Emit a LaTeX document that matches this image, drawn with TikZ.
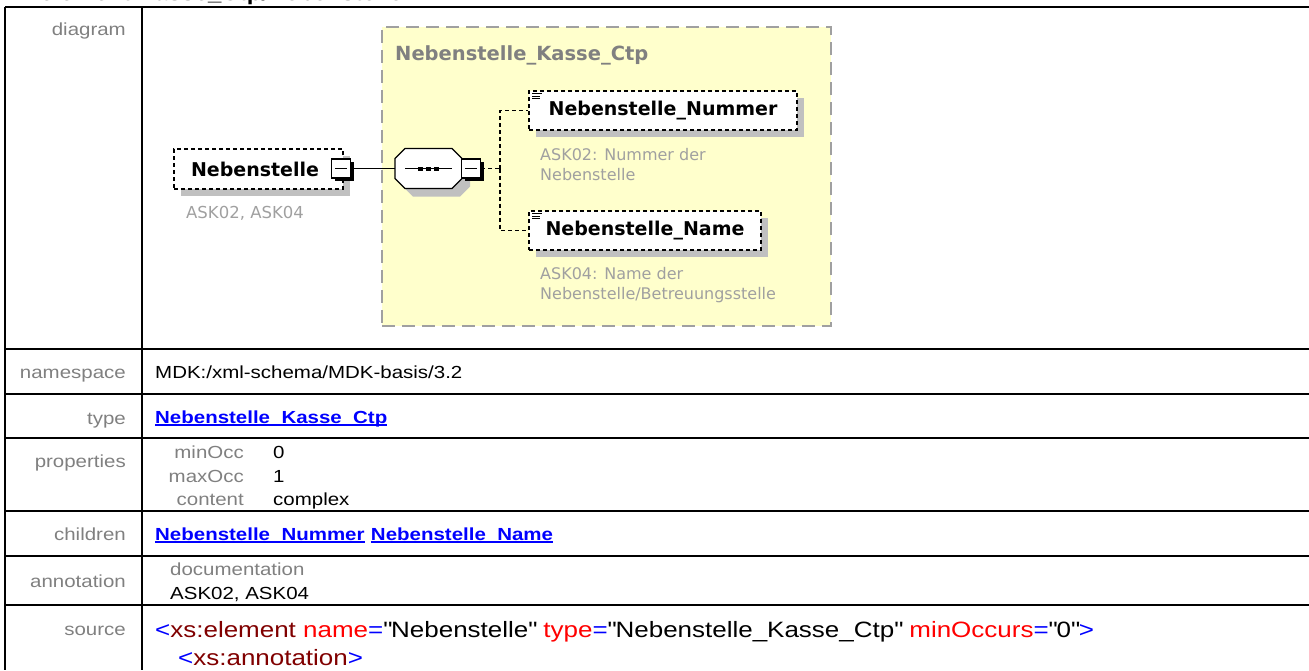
\documentclass[tikz,border=0pt]{standalone}
\usepackage{fontspec}
\setmainfont{Liberation Sans}[FakeStretch=1.17]
\newfontfamily\diafont{DejaVu Sans}
\usetikzlibrary{positioning,shadows,calc}

\definecolor{ctpyellow}{HTML}{FFFFCC}
\definecolor{ctpborder}{HTML}{A0A0A0}
\definecolor{shadowgray}{HTML}{C0C0C0}
\definecolor{docgray}{HTML}{A0A0A0}
\definecolor{tabgray}{HTML}{808080}
\definecolor{linkblue}{HTML}{0000FF}
\definecolor{srcmaroon}{HTML}{800000}
\definecolor{srcred}{HTML}{FF0000}

\newcommand{\ulink}[1]{\setbox0\hbox{#1}\rlap{\rule[-3pt]{\wd0}{1.6pt}}\box0}
\newcommand{\q}{\textquotedbl}

\begin{document}
\begin{tikzpicture}[x=1pt,y=-1pt,
  rule/.style={line width=2.5pt},
  rowlabel/.style={anchor=base east,inner sep=0pt,text=tabgray,font=\fontsize{17.5}{21}\selectfont},
  rowvalue/.style={anchor=base west,inner sep=0pt,font=\fontsize{17.5}{21}\selectfont},
  link/.style={anchor=base west,inner sep=0pt,text=linkblue,font=\fontsize{17.5}{21}\selectfont\bfseries},
  srcline/.style={anchor=base west,inner sep=0pt,font=\fontsize{22.2}{26}\selectfont},
  typebox/.style={rectangle,draw=ctpborder,fill=ctpyellow,line width=1.5pt,dash pattern=on 13pt off 7pt},
  elem/.style={rectangle,draw,fill=white,line width=1.3pt,dash pattern=on 4pt off 3pt,inner sep=0pt,
    font=\diafont\bfseries\fontsize{19}{22}\selectfont,
    drop shadow={shadow xshift=7pt,shadow yshift=-7pt,fill=shadowgray,opacity=1}},
  minusbox/.style={rectangle,draw,fill=white,line width=1.5pt,minimum size=19pt,inner sep=0pt,
    drop shadow={shadow xshift=3pt,shadow yshift=-3pt,fill=black,opacity=1},
    path picture={\draw[line width=1.3pt] ([xshift=3.5pt]path picture bounding box.west) -- ([xshift=-3.5pt]path picture bounding box.east);}},
  seqbox/.style={rectangle,minimum width=67pt,minimum height=40pt,inner sep=0pt},
  doc/.style={anchor=base west,inner sep=0pt,align=left,text=docgray,font=\diafont\fontsize{16}{20}\selectfont},
  conn/.style={line width=1.3pt},
  dconn/.style={line width=1.3pt,dash pattern=on 4pt off 3pt},
]
\useasboundingbox (0,0) rectangle (1309,670);

% === TABLE GRID ===
\draw[rule] (5,7) -- (1309,7);
\draw[rule] (5,349) -- (1309,349);
\draw[rule] (5,394) -- (1309,394);
\draw[rule] (5,438) -- (1309,438);
\draw[rule] (5,511) -- (1309,511);
\draw[rule] (5,556) -- (1309,556);
\draw[rule] (5,605) -- (1309,605);
\draw[rule] (5,7) -- (5,670);
\draw[rule] (142,7) -- (142,670);

% Heading, cut off by the page edge
\node[anchor=base west,inner sep=0pt,font=\fontsize{20.5}{24}\selectfont\bfseries] (heading) at (40,0.5) {element Kasse\_Ctp/Nebenstelle};

% === ROW LABELS ===
\node[rowlabel] (lbldiagram) at (126,35) {diagram};
\node[rowlabel] (lblnamespace) at (126,378) {namespace};
\node[rowlabel] (lbltype) at (126,424) {type};
\node[rowlabel] (lblproperties) at (126,467) {properties};
\node[rowlabel] (lblchildren) at (126,540) {children};
\node[rowlabel] (lblannotation) at (126,587) {annotation};
\node[rowlabel] (lblsource) at (126,635) {source};

% === ROW VALUES ===
\node[rowvalue] (namespace) at (155,378) {MDK:/xml-schema/MDK-basis/3.2};
\node[link] (typelink) at (155,423) {\ulink{Nebenstelle\_Kasse\_Ctp}};

\node[rowlabel] (minocc) at (244,458) {minOcc};
\node[rowlabel] (maxocc) at (244,482) {maxOcc};
\node[rowlabel] (content) at (244,505) {content};
\node[rowvalue] (minoccval) at (273,458) {0};
\node[rowvalue] (maxoccval) at (273,482) {1};
\node[rowvalue] (contentval) at (273,505) {complex};

\node[link] (kidnummer) at (155,540) {\ulink{Nebenstelle\_Nummer}};
\node[link,anchor=base west] (kidname) at ([xshift=6pt]kidnummer.base east) {\ulink{Nebenstelle\_Name}};

\node[rowvalue,text=tabgray] (documentation) at (170,575) {documentation};
\node[rowvalue] (annotext) at (170,599) {ASK02, ASK04};

\node[srcline] (srcfirst) at (155,637) {\textcolor{linkblue}{<}\textcolor{srcmaroon}{xs:element} \textcolor{srcred}{name}\textcolor{linkblue}{=}\q Nebenstelle\q{} \textcolor{srcred}{type}\textcolor{linkblue}{=}\q Nebenstelle\_Kasse\_Ctp\q{} \textcolor{srcred}{minOccurs}\textcolor{linkblue}{=}\q 0\q\textcolor{linkblue}{>}};
\node[srcline] (srcsecond) at (178,665) {\textcolor{linkblue}{<}\textcolor{srcmaroon}{xs:annotation}\textcolor{linkblue}{>}};

% === DIAGRAM ===
\node[typebox,minimum width=449pt,minimum height=299pt] (ctp) at (606.5,176.5) {};
\node[anchor=base west,inner sep=0pt,text=gray,font=\diafont\bfseries\fontsize{19.5}{23}\selectfont] (ctptitle) at (395,60) {Nebenstelle\_Kasse\_Ctp};

% The element itself
\node[elem,minimum width=169pt,minimum height=40pt] (neben) at (258.5,169) {Nebenstelle\hspace*{7pt}};
\node[minusbox] (nebminus) at (341,168.5) {};
\node[doc,font=\diafont\fontsize{16.5}{20}\selectfont] (nebendoc) at (186,218) {ASK02, ASK04};

% Sequence compositor
\node[seqbox] (seq) at (428.5,168.5) {};
\fill[shadowgray] ([shift={(8,8)}]seq.center) ++(-33.5,-10) -- ++(10,-10) -- ++(47,0) -- ++(10,10) -- ++(0,20) -- ++(-10,10) -- ++(-47,0) -- ++(-10,-10) -- cycle;
\draw[conn,fill=white] (seq.center) ++(-33.5,-10) -- ++(10,-10) -- ++(47,0) -- ++(10,10) -- ++(0,20) -- ++(-10,10) -- ++(-47,0) -- ++(-10,-10) -- cycle;
\draw[conn] ([xshift=-23.5pt]seq.center) -- ([xshift=23.5pt]seq.center);
\fill ([xshift=-7.7pt]seq.center) +(-2.5,-2) rectangle +(2.5,2);
\fill (seq.center) +(-2.5,-2) rectangle +(2.5,2);
\fill ([xshift=7.7pt]seq.center) +(-2.5,-2) rectangle +(2.5,2);
\node[minusbox] (seqminus) at (471,168.5) {};

% Children
\node[elem,minimum width=268pt,minimum height=39pt] (nummer) at (663,110.5) {Nebenstelle\_Nummer};
\node[doc] (nummerdoc) at (540,180) {ASK02: Nummer der\\Nebenstelle};
\node[elem,minimum width=232pt,minimum height=39pt] (name) at (645,230.5) {Nebenstelle\_Name};
\node[doc] (namedoc) at (540,299) {ASK04: Name der\\Nebenstelle/Betreuungsstelle};

% Simple-content marks
\draw[line width=0.9pt] ($(nummer.north west)+(4,3.5)$) -- +(10,0);
\draw[line width=0.9pt] ($(nummer.north west)+(4,6)$) -- +(8,0);
\draw[line width=0.9pt] ($(nummer.north west)+(4,8.5)$) -- +(8,0);
\draw[line width=0.9pt] ($(name.north west)+(4,3.5)$) -- +(10,0);
\draw[line width=0.9pt] ($(name.north west)+(4,6)$) -- +(8,0);
\draw[line width=0.9pt] ($(name.north west)+(4,8.5)$) -- +(8,0);

% Connectors
\coordinate (fork) at (500,168.5);
\draw[conn] (nebminus.east) -- (seq.west);
\draw[dconn] (seqminus.east) -- (fork);
\draw[dconn] (fork) |- (nummer.west);
\draw[dconn] (fork) |- (name.west);

\end{tikzpicture}
\end{document}
